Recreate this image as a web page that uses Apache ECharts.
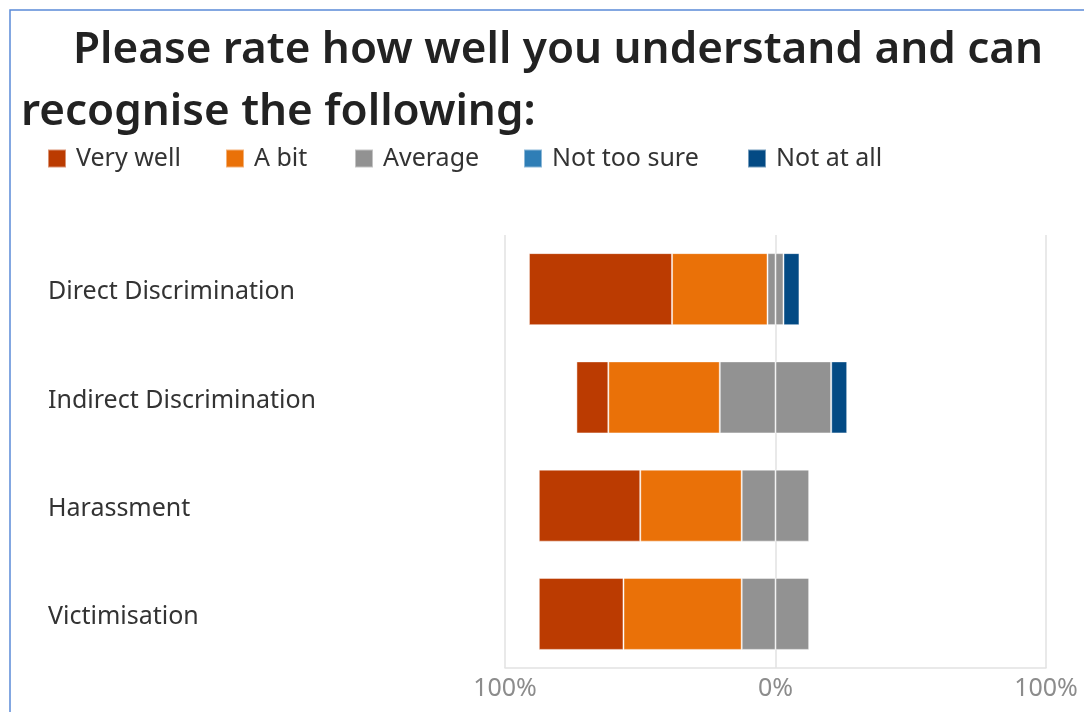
<!DOCTYPE html>
<html>
<head>
<meta charset="utf-8">
<script src="https://cdn.jsdelivr.net/npm/echarts@6/dist/echarts.min.js"></script>
<style>
  html, body { margin: 0; padding: 0; background: #fff; }
  #chart { width: 1084px; height: 712px; }
</style>
</head>
<body>
<div id="chart"></div>
<script>
// Survey topics (top to bottom)
var categories = ['Direct Discrimination', 'Indirect Discrimination', 'Harassment', 'Victimisation'];

// Share of respondents per answer, in percent
var veryWell   = [52.9, 11.8, 37.5, 31.3];
var aBit       = [35.3, 41.2, 37.5, 43.7];
var average    = [5.9, 41.2, 25.0, 25.0];
var notTooSure = [0, 0, 0, 0];
var notAtAll   = [5.9, 5.9, 0, 0];

var legendNames = ['Very well', 'A bit', 'Average', 'Not too sure', 'Not at all'];
var tickLabels = { '-100': '100%', '0': '0%', '100': '100%' };

var colors = {
  'Very well': '#BB3B01',
  'A bit': '#EA7108',
  'Average': '#929292',
  'Not too sure': '#2F7EB6',
  'Not at all': '#034A84'
};

var font = '"Noto Sans", "Open Sans", sans-serif';

function neg(arr) { return arr.map(function (v) { return -v; }); }
function half(arr) { return arr.map(function (v) { return v / 2; }); }

function bar(name, data) {
  return {
    name: name,
    type: 'bar',
    stack: 'total',
    barWidth: 72,
    data: data,
    itemStyle: { color: colors[name], borderColor: 'rgba(255,255,255,0.45)', borderWidth: 1 },
    emphasis: { disabled: true }
  };
}

// Negative side stacks outward from zero: half of "Average", then "A bit", then "Very well"
var series = [
  bar('Average', neg(half(average))),
  bar('A bit', neg(aBit)),
  bar('Very well', neg(veryWell)),
  bar('Average', half(average)),
  bar('Not too sure', notTooSure),
  bar('Not at all', notAtAll)
];

// One legend entry per component so each sits at its own x position
var legendX = [47, 225, 354, 523, 747];
var legends = legendNames.map(function (name, i) {
  return {
    data: [name],
    left: legendX[i], top: 146,
    padding: 0,
    icon: 'rect',
    itemWidth: 18, itemHeight: 18,
    selectedMode: false,
    textStyle: { fontFamily: font, fontSize: 25, color: '#333333', padding: [0, 0, 0, 5] }
  };
});

var chart = echarts.init(document.getElementById('chart'), null, { renderer: 'canvas' });
chart.setOption({
  animation: false,
  textStyle: { fontFamily: font },
  title: [
    {
      text: 'Please rate how well you understand and can',
      left: 68, top: 23,
      textStyle: { fontFamily: font, fontSize: 44, fontWeight: 600, color: '#222222' }
    },
    {
      text: 'recognise the following:',
      left: 16, top: 85,
      textStyle: { fontFamily: font, fontSize: 44, fontWeight: 600, color: '#222222' }
    }
  ],
  legend: legends,
  graphic: [
    {
      type: 'polyline',
      shape: { points: [[10, 712], [10, 10], [1084, 10]] },
      style: { stroke: '#5B8BD8', lineWidth: 1.5, fill: null }
    }
  ],
  grid: { left: 505, right: 38, top: 235, bottom: 44, containLabel: false },
  xAxis: {
    type: 'value',
    min: -100, max: 100, interval: 100,
    axisLine: { show: true, lineStyle: { color: '#e2e2e2', width: 1.5 } },
    axisTick: { show: false },
    splitLine: { show: true, lineStyle: { color: '#e2e2e2', width: 1.5 } },
    axisLabel: {
      formatter: function (v) { return tickLabels[String(v)]; },
      fontSize: 25, color: '#8c8c8c', margin: 8, fontFamily: font
    }
  },
  yAxis: {
    type: 'category',
    data: categories,
    inverse: true,
    axisLine: { show: false },
    axisTick: { show: false },
    splitLine: { show: false },
    axisLabel: {
      align: 'left', margin: 457,
      fontSize: 25, color: '#333333', fontFamily: font,
      formatter: function (v) { return '{t|' + v + '}'; },
      rich: { t: { fontSize: 25, color: '#333333', fontFamily: font, padding: [6, 0, 0, 0] } }
    }
  },
  series: series
});
</script>
</body>
</html>
